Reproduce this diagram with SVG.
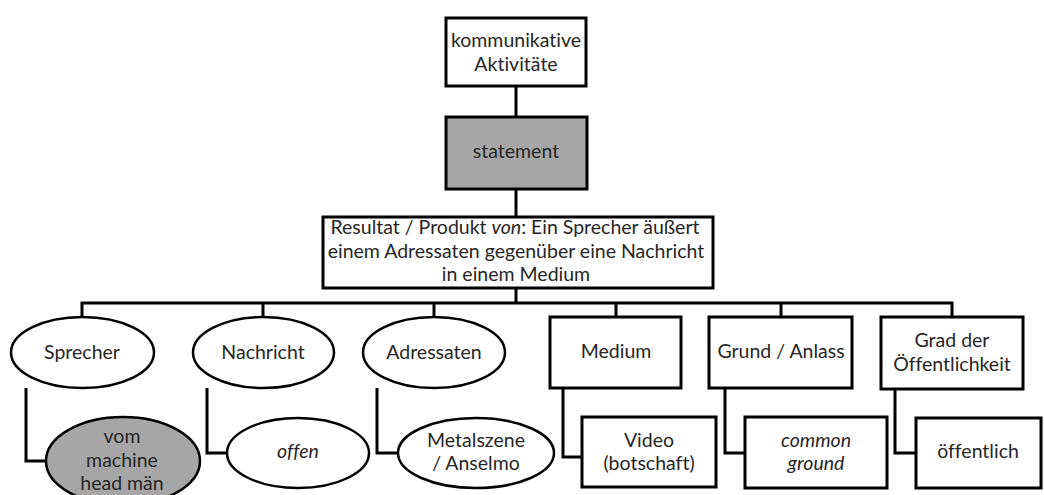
<svg xmlns="http://www.w3.org/2000/svg" width="1044" height="495" viewBox="0 0 1044 495">
  <style>
    .box { fill: #ffffff; stroke: #000000; stroke-width: 3; }
    .oval { fill: #ffffff; stroke: #000000; stroke-width: 2.5; }
    .shaded { fill: #a6a6a6; }
    .lbl { font-family: Lato, "Liberation Sans", sans-serif; font-size: 19.5px; fill: #262626; text-anchor: middle; font-variant-ligatures: none; }
    .it { font-style: italic; }
    .wire { fill: none; stroke: #000000; stroke-width: 3; }
  </style>
  <rect width="1044" height="495" fill="#ffffff"/>

  <!-- connectors -->
  <g id="connectors">
    <path class="wire" d="M516,86 V117"/>
    <path class="wire" d="M516,189 V217"/>
    <path class="wire" d="M516,288 V303"/>
    <path class="wire" d="M82,317 V303 H952 V317"/>
    <path class="wire" d="M263,303 V317"/>
    <path class="wire" d="M434,303 V317"/>
    <path class="wire" d="M616,303 V317"/>
    <path class="wire" d="M781,303 V317"/>
    <path class="wire" d="M26,388 V461 H46"/>
    <path class="wire" d="M207,388 V453 H227"/>
    <path class="wire" d="M377,388 V453 H398"/>
    <path class="wire" d="M563,388 V457 H582"/>
    <path class="wire" d="M725,388 V453 H745"/>
    <path class="wire" d="M895,389 V453 H916"/>
  </g>

  <g id="kommunikative-aktivitaet">
    <rect class="box" x="446" y="18" width="140" height="68"/>
    <text class="lbl" x="516" y="47">kommunikative</text>
    <text class="lbl" x="516" y="71">Aktivitäte</text>
  </g>

  <g id="statement">
    <rect class="box shaded" x="446" y="117" width="141" height="72"/>
    <text class="lbl" x="516" y="158">statement</text>
  </g>

  <g id="resultat">
    <rect class="box" x="323" y="217" width="390" height="71"/>
    <text class="lbl" x="515" y="234">Resultat / Produkt <tspan class="it">von</tspan>: Ein Sprecher äußert</text>
    <text class="lbl" x="516" y="258">einem Adressaten gegenüber eine Nachricht</text>
    <text class="lbl" x="516" y="281">in einem Medium</text>
  </g>

  <g id="sprecher">
    <ellipse class="oval" cx="82.5" cy="352.5" rx="71.5" ry="35.5"/>
    <text class="lbl" x="82" y="359">Sprecher</text>
  </g>

  <g id="nachricht">
    <ellipse class="oval" cx="263.5" cy="352.5" rx="70.5" ry="35.5"/>
    <text class="lbl" x="263" y="359">Nachricht</text>
  </g>

  <g id="adressaten">
    <ellipse class="oval" cx="434" cy="352.5" rx="71" ry="35.5"/>
    <text class="lbl" x="434" y="359">Adressaten</text>
  </g>

  <g id="medium">
    <rect class="box" x="550" y="317" width="131" height="71"/>
    <text class="lbl" x="616" y="358">Medium</text>
  </g>

  <g id="grund-anlass">
    <rect class="box" x="709" y="317" width="143" height="71"/>
    <text class="lbl" x="781" y="358">Grund / Anlass</text>
  </g>

  <g id="grad-oeffentlichkeit">
    <rect class="box" x="881" y="317" width="142" height="72"/>
    <text class="lbl" x="952" y="347">Grad der</text>
    <text class="lbl" x="952" y="371">Öffentlichkeit</text>
  </g>

  <g id="vom-machine-head-maen">
    <ellipse class="oval shaded" cx="123" cy="461" rx="77" ry="44"/>
    <text class="lbl" x="122" y="443">vom</text>
    <text class="lbl" x="122" y="467">machine</text>
    <text class="lbl" x="122" y="490">head män</text>
  </g>

  <g id="offen">
    <ellipse class="oval" cx="298" cy="453" rx="71" ry="35"/>
    <text class="lbl it" x="298" y="458">offen</text>
  </g>

  <g id="metalszene-anselmo">
    <ellipse class="oval" cx="476" cy="453" rx="78" ry="35"/>
    <text class="lbl" x="476" y="447">Metalszene</text>
    <text class="lbl" x="476" y="470">/ Anselmo</text>
  </g>

  <g id="video-botschaft">
    <rect class="box" x="582" y="417" width="134" height="70"/>
    <text class="lbl" x="649" y="447">Video</text>
    <text class="lbl" x="649" y="470">(botschaft)</text>
  </g>

  <g id="common-ground">
    <rect class="box" x="745" y="417" width="142" height="71"/>
    <text class="lbl it" x="816" y="447">common</text>
    <text class="lbl it" x="816" y="470">ground</text>
  </g>

  <g id="oeffentlich">
    <rect class="box" x="916" y="418" width="125" height="70"/>
    <text class="lbl" x="978" y="458">öffentlich</text>
  </g>
</svg>
